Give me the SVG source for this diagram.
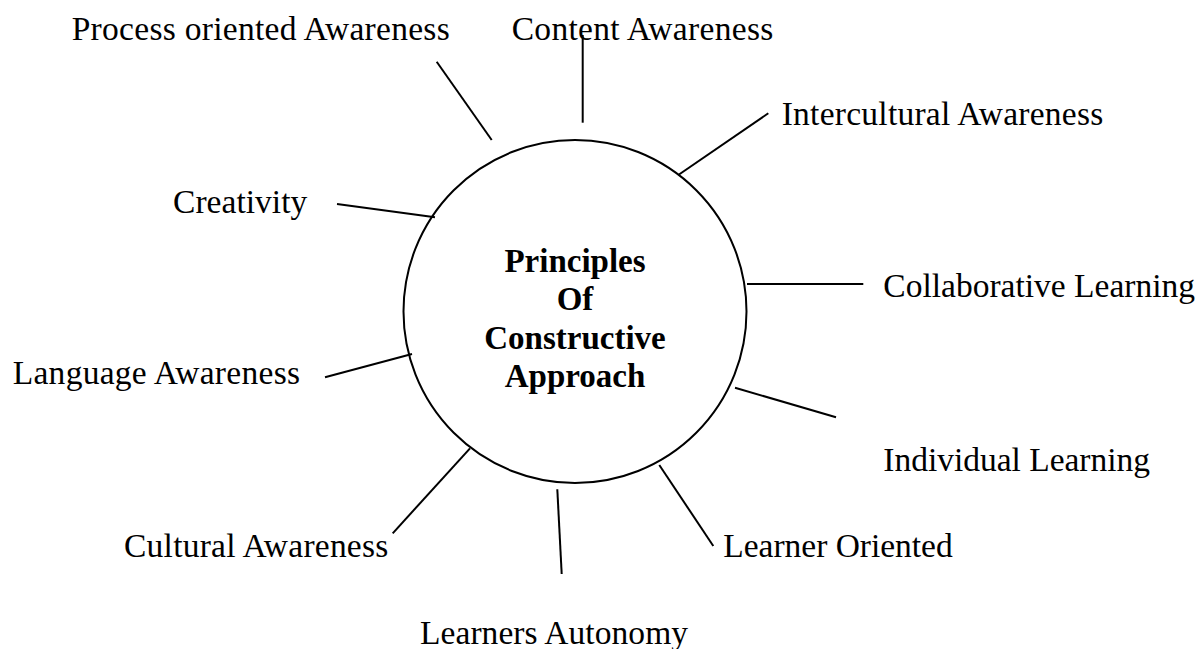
<svg xmlns="http://www.w3.org/2000/svg" width="1201" height="649" viewBox="0 0 1201 649">
  <style>
    .lbl { font-family: "Liberation Serif", "Times New Roman", serif; font-size: 33.5px; fill: #000; }
    .core { font-family: "Liberation Serif", "Times New Roman", serif; font-size: 33px; font-weight: bold; fill: #000; text-anchor: middle; }
    .spoke { stroke: #000; stroke-width: 2; fill: none; stroke-linecap: butt; }
  </style>
  <rect x="0" y="0" width="1201" height="649" fill="#fff"/>

  <!-- central principle -->
  <g id="center">
    <circle cx="575" cy="311.5" r="171.5" fill="#fff" stroke="#000" stroke-width="2"/>
    <text class="core" x="575" y="272">Principles</text>
    <text class="core" x="575" y="310">Of</text>
    <text class="core" x="575" y="348.5">Constructive</text>
    <text class="core" x="575" y="387">Approach</text>
  </g>

  <!-- spokes from the circle to each label -->
  <g id="connectors">
    <line class="spoke" x1="436.7" y1="61.7" x2="491.7" y2="140"/>
    <line class="spoke" x1="582.7" y1="35" x2="582.7" y2="122.7"/>
    <line class="spoke" x1="678.3" y1="175" x2="768.3" y2="113.3"/>
    <line class="spoke" x1="337" y1="204" x2="435" y2="217.3"/>
    <line class="spoke" x1="747" y1="284" x2="863.3" y2="284"/>
    <line class="spoke" x1="325" y1="377.3" x2="412" y2="354"/>
    <line class="spoke" x1="735" y1="387.7" x2="836" y2="417.3"/>
    <line class="spoke" x1="392.7" y1="533.3" x2="470" y2="448.3"/>
    <line class="spoke" x1="557.3" y1="489.3" x2="561.7" y2="574"/>
    <line class="spoke" x1="659.3" y1="465" x2="713.3" y2="546"/>
  </g>

  <g id="process-oriented"><text class="lbl" x="71.7" y="40" textLength="378">Process oriented Awareness</text></g>
  <g id="content"><text class="lbl" x="511.7" y="40" textLength="261.6">Content Awareness</text></g>
  <g id="intercultural"><text class="lbl" x="781.7" y="125" textLength="321.6">Intercultural Awareness</text></g>
  <g id="creativity"><text class="lbl" x="173" y="212.7" textLength="134.3">Creativity</text></g>
  <g id="collaborative"><text class="lbl" x="883.3" y="297.3" textLength="311.7">Collaborative Learning</text></g>
  <g id="language"><text class="lbl" x="12.7" y="384" textLength="287.3">Language Awareness</text></g>
  <g id="individual"><text class="lbl" x="883.3" y="470.7" textLength="266.7">Individual Learning</text></g>
  <g id="cultural"><text class="lbl" x="124" y="557.3" textLength="264.3">Cultural Awareness</text></g>
  <g id="learner-oriented"><text class="lbl" x="723.3" y="557.3" textLength="229.4">Learner Oriented</text></g>
  <g id="autonomy"><text class="lbl" x="420" y="644" textLength="268">Learners Autonomy</text></g>
</svg>
